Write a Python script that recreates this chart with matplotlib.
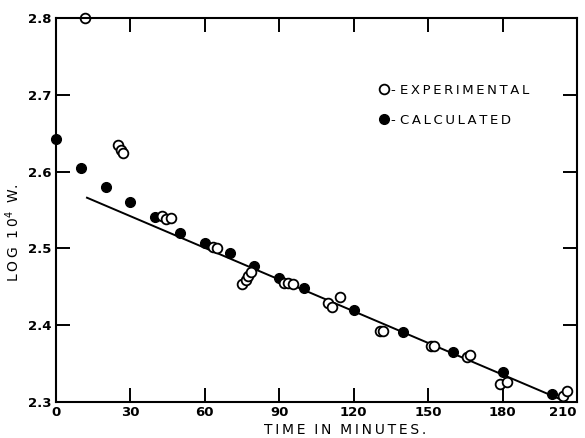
import matplotlib
matplotlib.use('Agg')
from matplotlib import pyplot as plt
import numpy as np

# experimental points (open circles)
exp_t = [11.7, 25.0, 26.2, 27.0, 42.7, 44.3, 46.4, 63.3, 64.9,
         75.0, 76.5, 77.5, 78.5, 91.9, 93.5, 95.5, 109.6, 111.3, 114.5,
         130.6, 131.9, 151.0, 152.4, 165.7, 166.9, 179.0, 181.8, 204.4, 206.0]
exp_logw = [2.800, 2.635, 2.628, 2.624, 2.542, 2.538, 2.540, 2.502, 2.500,
            2.454, 2.459, 2.464, 2.469, 2.455, 2.455, 2.453, 2.429, 2.424, 2.437,
            2.392, 2.392, 2.373, 2.373, 2.359, 2.361, 2.323, 2.326, 2.308, 2.314]

# calculated points (filled circles)
calc_t = [0, 10, 20, 30, 40, 50, 60, 70, 80, 90, 100, 120, 140, 160, 180, 200]
calc_logw = [2.642, 2.605, 2.580, 2.560, 2.541, 2.520, 2.507, 2.494, 2.477,
             2.461, 2.448, 2.420, 2.391, 2.365, 2.339, 2.310]

# straight line through the data
line_t = [12.5, 203.0]
line_logw = [2.566, 2.304]

x_ticks = [0, 30, 60, 90, 120, 150, 180, 210]
y_ticks = [2.3, 2.4, 2.5, 2.6, 2.7, 2.8]

def spaced(s):
    # wide lettering like the original stencil text
    return '\u2009'.join(s)

plt.figure(figsize=(5.85, 4.38), dpi=100)
ax = plt.axes([0.0957, 0.0822, 0.8906, 0.8767])

ax.plot(line_t, line_logw, color='black', linewidth=1.4)
ax.plot(calc_t, calc_logw, 'o', color='black', markersize=7,
        linestyle='none', clip_on=False, label='- ' + spaced('CALCULATED'))
ax.plot(exp_t, exp_logw, 'o', markerfacecolor='white', markeredgecolor='black',
        markeredgewidth=1.3, markersize=7, linestyle='none', clip_on=False,
        label='- ' + spaced('EXPERIMENTAL'))

ax.set_xlim(0, 210)
ax.set_ylim(2.3, 2.8)
ax.set_xticks(x_ticks)
ax.set_xticklabels([str(t) for t in x_ticks], fontweight='bold')
ax.set_yticks(y_ticks)
ax.set_yticklabels(['%.1f' % t for t in y_ticks], fontweight='bold')
ax.tick_params(direction='in', length=10, width=1.4, top=True, right=True,
               labelsize=9.5, pad=3)
ax.get_xticklabels()[-1].set_horizontalalignment('right')
ax.get_xticklabels()[-1].set_x(209)
for s in ax.spines.values():
    s.set_linewidth(1.5)

ax.set_xlabel(spaced('TIME') + '  ' + spaced('IN') + '  ' + spaced('MINUTES.'),
              fontsize=10)
ax.xaxis.set_label_coords(0.555, -0.055)
ax.set_ylabel(spaced('LOG') + '  1\u20090$^4$  W.', fontsize=10)
ax.yaxis.set_label_coords(-0.065, 0.44)

handles, labels = ax.get_legend_handles_labels()
ax.legend(handles[::-1], labels[::-1], frameon=False,
          loc='upper left', bbox_to_anchor=(0.6, 0.86), fontsize=9.5,
          handlelength=0.6, handletextpad=0.2, labelspacing=1.3)

plt.savefig('out.png', dpi=100)
